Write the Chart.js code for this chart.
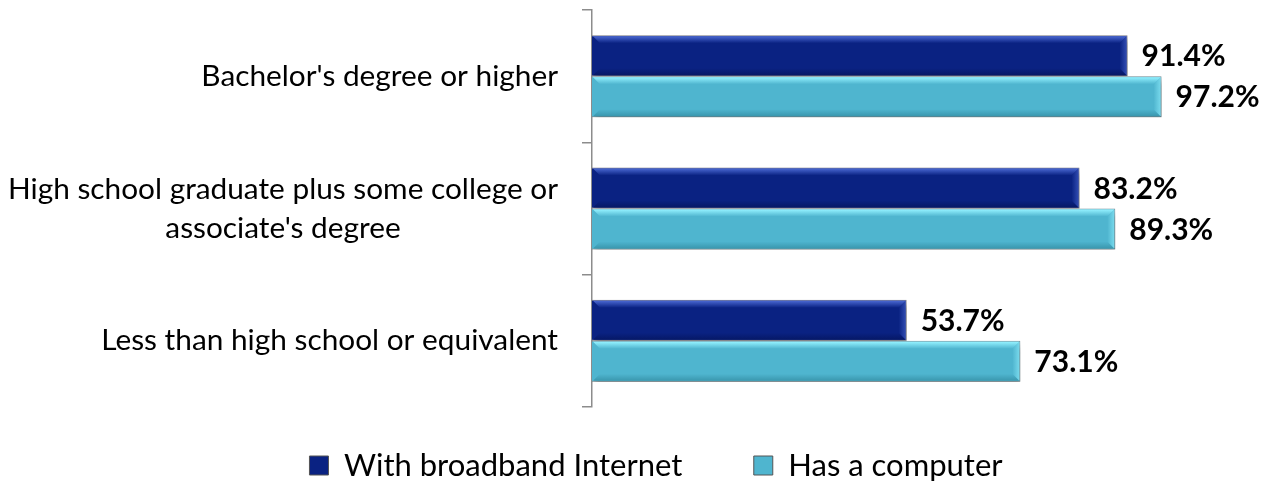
<!DOCTYPE html>
<html>
<head>
<meta charset="utf-8">
<script src="https://cdn.jsdelivr.net/npm/chart.js@4/dist/chart.umd.min.js"></script>
<style>
  html, body { margin: 0; padding: 0; background: #fff; }
  #wrap { width: 1270px; height: 482px; }
</style>
</head>
<body>
<div id="wrap"><canvas id="c" width="1270" height="482"></canvas></div>
<script>
const categories = [
  ["Bachelor's degree or higher"],
  ["High school graduate plus some college or", "associate's degree"],
  ["Less than high school or equivalent"]
];
const seriesNames = ["With broadband Internet", "Has a computer"];
const broadband = [91.4, 83.2, 53.7];
const computer = [97.2, 89.3, 73.1];

const FONT = "Lato, 'Open Sans', sans-serif";
const bodyColors = ['#0a2282', '#4fb5cf'];
const topColors = ['#4a68d2', '#93f1ff'];
const bottomColors = ['#061866', '#3a97ae'];

const shadowPlugin = {
  id: 'shadow',
  beforeDatasetsDraw(chart) {
    const ctx = chart.ctx;
    ctx.save();
    ctx.shadowColor = 'rgba(0,0,0,0.35)';
    ctx.shadowOffsetX = 2;
    ctx.shadowOffsetY = 5;
    ctx.shadowBlur = 6;
  },
  afterDatasetsDraw(chart) {
    chart.ctx.restore();
  }
};

const bevelPlugin = {
  id: 'bevel',
  afterDatasetsDraw(chart) {
    const ctx = chart.ctx;
    chart.data.datasets.forEach((ds, di) => {
      const meta = chart.getDatasetMeta(di);
      meta.data.forEach((bar, i) => {
        const p = bar.getProps(['x', 'y', 'base', 'height'], true);
        const x0 = p.base + 1, x1 = p.x - 1;
        const t = p.y - p.height / 2 + 1, b = p.y + p.height / 2 - 1;
        const bv = 7;
        ctx.save();
        let g = ctx.createLinearGradient(0, t, 0, t + bv);
        g.addColorStop(0, topColors[di]);
        g.addColorStop(1, bodyColors[di]);
        ctx.fillStyle = g;
        ctx.beginPath();
        ctx.moveTo(x0, t); ctx.lineTo(x1, t); ctx.lineTo(x1 - bv, t + bv); ctx.lineTo(x0 + bv, t + bv); ctx.closePath();
        ctx.fill();
        g = ctx.createLinearGradient(0, b - bv, 0, b);
        g.addColorStop(0, bodyColors[di]);
        g.addColorStop(1, bottomColors[di]);
        ctx.fillStyle = g;
        ctx.beginPath();
        ctx.moveTo(x0, b); ctx.lineTo(x1, b); ctx.lineTo(x1 - bv, b - bv); ctx.lineTo(x0 + bv, b - bv); ctx.closePath();
        ctx.fill();
        g = ctx.createLinearGradient(x1 - bv, 0, x1, 0);
        g.addColorStop(0, bodyColors[di]);
        g.addColorStop(1, topColors[di]);
        ctx.fillStyle = g;
        ctx.globalAlpha = 0.6;
        ctx.beginPath();
        ctx.moveTo(x1, t); ctx.lineTo(x1, b); ctx.lineTo(x1 - bv, b - bv); ctx.lineTo(x1 - bv, t + bv); ctx.closePath();
        ctx.fill();
        ctx.restore();
      });
    });
  }
};

const labelsPlugin = {
  id: 'labels',
  afterDraw(chart) {
    const ctx = chart.ctx;
    const yScale = chart.scales.y;
    ctx.save();
    ctx.fillStyle = '#000';
    ctx.font = "bold 30px " + FONT;
    ctx.textAlign = 'left';
    ctx.textBaseline = 'middle';
    chart.data.datasets.forEach((ds, di) => {
      const meta = chart.getDatasetMeta(di);
      meta.data.forEach((bar, i) => {
        const p = bar.getProps(['x', 'y'], true);
        ctx.fillText(ds.data[i].toFixed(1) + '%', p.x + 14, p.y + 1);
      });
    });
    ctx.font = "29.8px " + FONT;
    const lineH = 39;
    const rightEdge = yScale.right - 34;
    categories.forEach((lines, i) => {
      const yc = yScale.getPixelForValue(i);
      const widths = lines.map(l => ctx.measureText(l).width);
      const wmax = Math.max(...widths);
      const cx = rightEdge - wmax / 2;
      ctx.textAlign = 'center';
      lines.forEach((l, k) => {
        const y = yc + (k - (lines.length - 1) / 2) * lineH;
        ctx.fillText(l, cx, y);
      });
    });
    ctx.restore();
  }
};

new Chart(document.getElementById('c'), {
  type: 'bar',
  data: {
    labels: categories,
    datasets: [
      { label: seriesNames[0], data: broadband, backgroundColor: bodyColors[0], borderColor: '#7a7a86', borderWidth: 1, categoryPercentage: 0.62, barPercentage: 1.0 },
      { label: seriesNames[1], data: computer, backgroundColor: bodyColors[1], borderColor: '#6f8d96', borderWidth: 1, categoryPercentage: 0.62, barPercentage: 1.0 }
    ]
  },
  options: {
    indexAxis: 'y',
    responsive: false,
    animation: false,
    layout: { padding: { top: 10, left: 42, right: 0, bottom: -9 } },
    scales: {
      x: {
        min: 0, max: 115.7,
        display: true,
        ticks: { display: false },
        grid: { display: false },
        border: { display: false },
        afterFit(scale) { scale.height = 43; }
      },
      y: {
        type: 'category',
        offset: true,
        ticks: { display: false },
        grid: { display: true, drawOnChartArea: false, drawTicks: true, tickLength: 10, color: '#8c8c8c', lineWidth: 1.5, offset: true },
        border: { display: true, color: '#8c8c8c', width: 1.5 },
        afterFit(scale) { scale.width = 550; }
      }
    },
    plugins: {
      legend: {
        position: 'bottom',
        labels: {
          font: { family: FONT, size: 31 },
          color: '#000',
          boxWidth: 19,
          boxHeight: 19,
          padding: 0,
          generateLabels(chart) {
            return chart.data.datasets.map((ds, i) => ({
              text: ds.label + (i === 0 ? '         ' : ''),
              fillStyle: bodyColors[i],
              strokeStyle: '#555',
              lineWidth: 1,
              datasetIndex: i,
              fontColor: '#000'
            }));
          }
        }
      },
      tooltip: { enabled: false }
    }
  },
  plugins: [shadowPlugin, bevelPlugin, labelsPlugin]
});
</script>
</body>
</html>
